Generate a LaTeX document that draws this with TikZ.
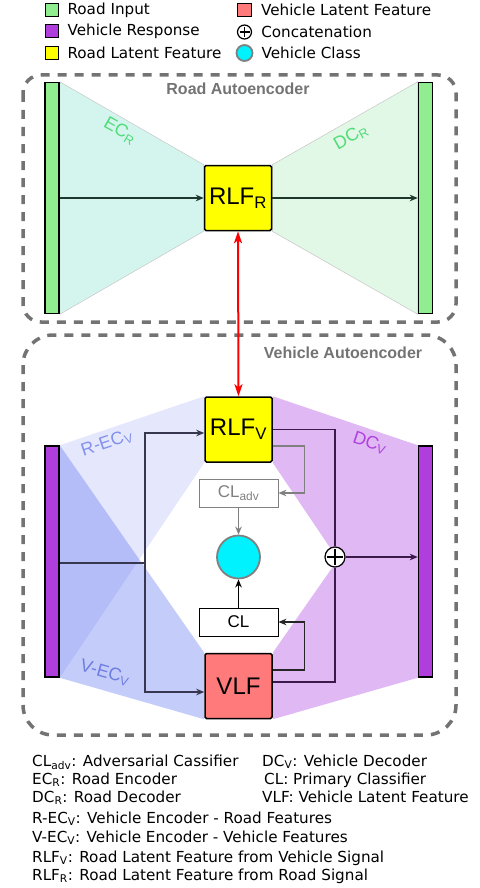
\documentclass[tikz,border=0pt]{standalone}
\usepackage{fontspec}
\setmainfont{DejaVu Sans}
\newfontfamily\arialfont{Liberation Sans}
\usetikzlibrary{arrows.meta,positioning,backgrounds}
\definecolor{roadgreen}{RGB}{144,238,144}
\definecolor{vehpurple}{RGB}{176,62,220}
\definecolor{rlfyellow}{RGB}{255,255,0}
\definecolor{vlfred}{RGB}{255,122,122}
\definecolor{clscyan}{RGB}{0,242,255}
\definecolor{ecfill}{RGB}{212,245,238}
\definecolor{dcrfill}{RGB}{225,248,230}
\definecolor{ecgreen}{RGB}{80,220,120}
\definecolor{encblue}{RGB}{100,120,240}
\definecolor{rectext}{RGB}{130,145,235}
\definecolor{vectext}{RGB}{110,125,225}
\definecolor{dcvfill}{RGB}{224,184,244}
\definecolor{dcvtext}{RGB}{176,64,224}
\definecolor{roadline}{RGB}{30,55,45}
\definecolor{vline}{RGB}{55,55,80}
\definecolor{catline}{RGB}{60,25,75}
\definecolor{boxgray}{RGB}{115,115,115}

\begin{document}
\begin{tikzpicture}[x=1pt,y=-1pt,
  every node/.style={inner sep=0pt},
  keybox/.style={draw,line width=1.2pt,minimum size=13.5pt},
  keytext/.style={anchor=west,font=\fontsize{15.2}{17}\selectfont},
  notetext/.style={anchor=base west,font=\fontsize{15.2}{17}\selectfont},
  aebox/.style={draw=boxgray,line width=3.5pt,dash pattern=on 9pt off 8pt},
  aetitle/.style={font=\arialfont\bfseries\fontsize{16}{16}\selectfont,text=boxgray},
  bar/.style={draw,line width=1.5pt,minimum width=14pt,minimum height=231pt},
  latent/.style={draw,line width=1.5pt,rounded corners=1.5pt,minimum width=67pt,
    minimum height=65pt,font=\arialfont\fontsize{24}{24}\selectfont},
  clbox/.style={draw,line width=0.8pt,fill=white,minimum width=79pt,minimum height=28pt,
    font=\arialfont\fontsize{17}{17}\selectfont},
  classdot/.style={circle,draw=gray,line width=1.8pt,fill=clscyan},
  concat/.style={circle,draw,fill=white,line width=1.2pt,minimum size=#1,
    path picture={\draw[line width=1.2pt]
      ([yshift=-2pt]path picture bounding box.north) -- ([yshift=2pt]path picture bounding box.south)
      ([xshift=2pt]path picture bounding box.west) -- ([xshift=-2pt]path picture bounding box.east);}},
  concat/.default=14pt,
  enclabel/.style={font=\arialfont\fontsize{18}{18}\selectfont},
  arr/.style={-{Stealth[length=8pt,width=6.5pt,inset=2.5pt]}},
]
\useasboundingbox (0,0) rectangle (479,888);

% legend
\node[keybox,fill=roadgreen] (kroad) at (52,10) {};
\node[keytext,right=8pt of kroad] (tkroad) {Road Input};
\node[keybox,fill=vehpurple] (kveh) at (52,31) {};
\node[keytext,right=8pt of kveh] (tkveh) {Vehicle Response};
\node[keybox,fill=rlfyellow] (krlf) at (52,53) {};
\node[keytext,right=8pt of krlf] (tkrlf) {Road Latent Feature};
\node[keybox,fill=vlfred] (kvlf) at (244.5,10) {};
\node[keytext,right=9pt of kvlf] (tkvlf) {Vehicle Latent Feature};
\node[concat] (kcat) at (244.5,32) {};
\node[keytext,right=9pt of kcat] (tkcat) {Concatenation};
\node[classdot,minimum size=16pt] (kcls) at (244.5,53) {};
\node[keytext,right=8pt of kcls] (tkcls) {Vehicle Class};

% autoencoder frames
\draw[aebox,rounded corners=18pt] (23,75) rectangle (456,322);
\draw[aebox,rounded corners=30pt] (23,335) rectangle (456,735);
\node[aetitle] (troad) at (238,89) {Road Autoencoder};
\node[aetitle] (tveh) at (343,353) {Vehicle Autoencoder};

% road autoencoder
\node[bar,fill=roadgreen] (rin) at (52,198) {};
\node[bar,fill=roadgreen] (rout) at (425.5,198) {};
\node[latent,fill=rlfyellow] (rlfr) at (238,198) {RLF\textsubscript{R}};
\begin{scope}[on background layer]
  \filldraw[fill=ecfill,draw=gray!45,line width=0.5pt]
    (rin.north east) -- (rlfr.north west) -- (rlfr.south west) -- (rin.south east) -- cycle;
  \filldraw[fill=dcrfill,draw=gray!45,line width=0.5pt]
    (rlfr.north east) -- (rout.north west) -- (rout.south west) -- (rlfr.south east) -- cycle;
\end{scope}
\draw[arr,roadline,line width=1.3pt] (rin.east) -- (rlfr.west);
\draw[arr,roadline,line width=1.3pt] (rlfr.east) -- (rout.west);
\node[enclabel,text=ecgreen,rotate=-29.5] (lecr) at (120,131) {EC\textsubscript{R}};
\node[enclabel,text=ecgreen,rotate=29.5] (ldcr) at (351,137) {DC\textsubscript{R}};

% vehicle autoencoder
\node[bar,fill=vehpurple] (vin) at (52,561.5) {};
\node[bar,fill=vehpurple] (vout) at (425.5,561.5) {};
\node[latent,fill=rlfyellow] (rlfv) at (238.5,429.5) {RLF\textsubscript{V}};
\node[latent,fill=vlfred] (vlf) at (238.5,686) {VLF};
\node[clbox,draw=gray,text=gray] (cladv) at (238.5,493) {CL\textsubscript{adv}};
\node[clbox] (cl) at (238.5,622) {CL};
\node[classdot,minimum size=43pt] (cls) at (238.5,557) {};
\node[concat=20pt] (cat) at (335,557) {};
\coordinate (split) at (145,563);
\begin{scope}[on background layer]
  \fill[encblue,fill opacity=0.17]
    (vin.north east) -- (rlfv.north west) -- (rlfv.south west) -- (vin.south east) -- cycle;
  \fill[encblue,fill opacity=0.38]
    (vin.north east) -- (vlf.north west) -- (vlf.south west) -- (vin.south east) -- cycle;
  \fill[dcvfill]
    (rlfv.north east) -- (vout.north west) -- (vout.south west) -- (rlfv.south east) -- cycle;
  \fill[dcvfill]
    (vlf.north east) -- (vout.north west) -- (vout.south west) -- (vlf.south east) -- cycle;
\end{scope}
\node[enclabel,text=rectext,rotate=18.5] (lrec) at (107,443) {R-EC\textsubscript{V}};
\node[enclabel,text=vectext,rotate=-16] (lvec) at (105,673) {V-EC\textsubscript{V}};
\node[enclabel,text=dcvtext,rotate=-18.5] (ldcv) at (370,443) {DC\textsubscript{V}};

\draw[red,line width=2pt,{Stealth[length=12pt,width=8pt,inset=3pt]}-{Stealth[length=12pt,width=8pt,inset=3pt]}]
  (rlfr.south) -- (rlfv.north);
\draw[vline,line width=1.3pt] (vin.east |- split) -- (split);
\draw[arr,vline,line width=1.3pt] (split) |- ([yshift=-3.5pt]rlfv.west);
\draw[arr,vline,line width=1.3pt] (split) |- ([yshift=-6pt]vlf.west);
\draw[catline,line width=1.3pt] (rlfv.east) -| (cat.north);
\draw[catline,line width=1.3pt] ([yshift=4pt]vlf.east) -| (cat.south);
\draw[arr,catline,line width=1.3pt] (cat.east) -- (cat.east -| vout.west);
\draw[arr,gray,line width=1.3pt] ([yshift=-16.5pt]rlfv.east) -- ++(32,0) |- (cladv.east);
\draw[arr,gray,line width=1.3pt] (cladv.south) -- (cls.north);
\draw[arr,black!85,line width=1.3pt] ([yshift=16pt]vlf.east) -- ++(32,0) |- (cl.east);
\draw[arr,black,line width=1.3pt] (cl.north) -- (cls.south);

% abbreviations
\node[notetext] (nadv) at (32,766) {CL\textsubscript{adv}: Adversarial Cassifier};
\node[notetext] (necr) at (32,784) {EC\textsubscript{R}: Road Encoder};
\node[notetext] (ndcr) at (32,802) {DC\textsubscript{R}: Road Decoder};
\node[notetext] (nrec) at (32,823) {R-EC\textsubscript{V}: Vehicle Encoder - Road Features};
\node[notetext] (nvec) at (32,842) {V-EC\textsubscript{V}: Vehicle Encoder - Vehicle Features};
\node[notetext] (nrlfv) at (32,862) {RLF\textsubscript{V}: Road Latent Feature from Vehicle Signal};
\node[notetext] (nrlfr) at (32,880) {RLF\textsubscript{R}: Road Latent Feature from Road Signal};
\node[notetext] (ndcv) at (262,766) {DC\textsubscript{V}: Vehicle Decoder};
\node[notetext] (ncl) at (264,784) {CL: Primary Classifier};
\node[notetext] (nvlf) at (262,802) {VLF: Vehicle Latent Feature};
\end{tikzpicture}
\end{document}
